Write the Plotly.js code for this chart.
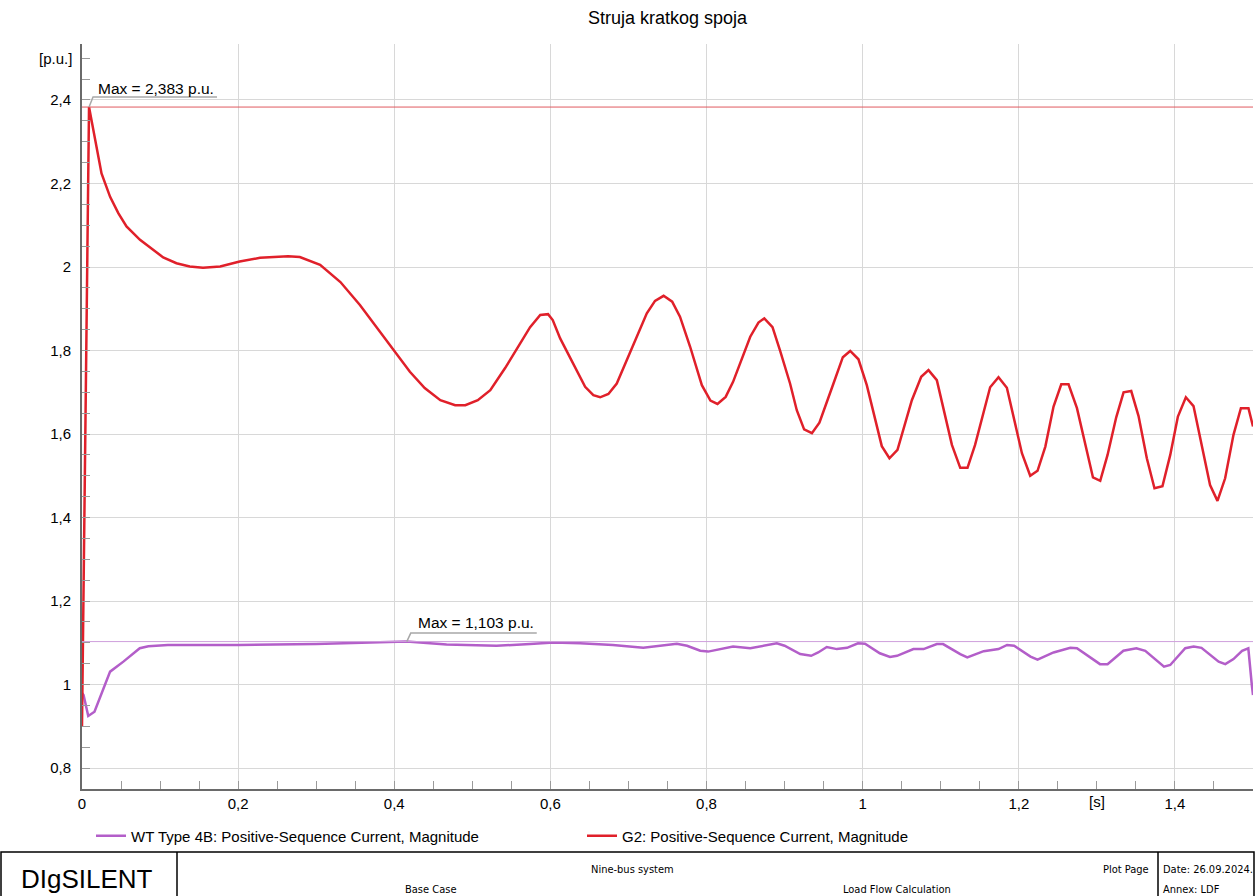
<!DOCTYPE html>
<html>
<head>
<meta charset="utf-8">
<script src="https://cdn.plot.ly/plotly-3.0.1.min.js"></script>
<style>html,body{margin:0;padding:0;background:#fff;}#chart{width:1255px;height:896px;}</style>
</head>
<body>
<div id="chart"></div>
<script>
// ---- data ----
const G2_T = [0, 0.009, 0.025, 0.036, 0.0465, 0.057, 0.0743, 0.091, 0.104, 0.121, 0.138, 0.155, 0.177, 0.202, 0.228, 0.264, 0.279, 0.305, 0.331, 0.356, 0.382, 0.401, 0.420, 0.439, 0.459, 0.478, 0.491, 0.507, 0.523, 0.542, 0.561, 0.574, 0.587, 0.597, 0.603, 0.6125, 0.6445, 0.655, 0.6637, 0.6743, 0.685, 0.702, 0.7235, 0.734, 0.745, 0.756, 0.766, 0.779, 0.794, 0.805, 0.814, 0.8245, 0.834, 0.856, 0.8665, 0.874, 0.8845, 0.894, 0.907, 0.9156, 0.925, 0.935, 0.9446, 0.9626, 0.9746, 0.984, 0.9946, 1.0053, 1.0245, 1.0343, 1.0446, 1.063, 1.075, 1.0843, 1.095, 1.1143, 1.125, 1.1343, 1.144, 1.1633, 1.174, 1.1847, 1.204, 1.2146, 1.224, 1.234, 1.2445, 1.2544, 1.2637, 1.2745, 1.295, 1.3043, 1.3137, 1.3248, 1.3342, 1.344, 1.3534, 1.364, 1.3738, 1.384, 1.394, 1.4038, 1.414, 1.4238, 1.445, 1.4545, 1.4643, 1.475, 1.4845, 1.4942, 1.5];
const G2_V = [0.9, 2.383, 2.224, 2.168, 2.129, 2.097, 2.065, 2.041, 2.023, 2.009, 2.001, 1.998, 2.001, 2.013, 2.022, 2.026, 2.024, 2.005, 1.964, 1.909, 1.844, 1.796, 1.749, 1.710, 1.681, 1.669, 1.669, 1.681, 1.705, 1.758, 1.818, 1.856, 1.885, 1.887, 1.873, 1.829, 1.713, 1.693, 1.688, 1.696, 1.721, 1.797, 1.889, 1.919, 1.931, 1.917, 1.881, 1.809, 1.717, 1.680, 1.672, 1.689, 1.725, 1.833, 1.867, 1.877, 1.856, 1.801, 1.721, 1.657, 1.611, 1.602, 1.627, 1.721, 1.784, 1.799, 1.779, 1.717, 1.571, 1.542, 1.562, 1.681, 1.737, 1.753, 1.729, 1.574, 1.519, 1.519, 1.574, 1.712, 1.736, 1.711, 1.554, 1.500, 1.512, 1.570, 1.666, 1.719, 1.719, 1.662, 1.496, 1.488, 1.550, 1.640, 1.700, 1.703, 1.643, 1.542, 1.470, 1.475, 1.550, 1.642, 1.688, 1.667, 1.478, 1.440, 1.494, 1.598, 1.662, 1.662, 1.618];

const WT_T = [0, 0.002, 0.008, 0.016, 0.036, 0.053, 0.074, 0.085, 0.11, 0.2, 0.3, 0.35, 0.39, 0.416, 0.467, 0.531, 0.574, 0.604, 0.638, 0.68, 0.719, 0.74, 0.762, 0.775, 0.792, 0.802, 0.817, 0.834, 0.856, 0.873, 0.89, 0.9, 0.92, 0.934, 0.943, 0.954, 0.967, 0.98, 0.994, 1.003, 1.022, 1.035, 1.044, 1.065, 1.078, 1.095, 1.103, 1.125, 1.134, 1.155, 1.174, 1.185, 1.194, 1.215, 1.224, 1.2445, 1.266, 1.2745, 1.304, 1.3137, 1.334, 1.3506, 1.362, 1.386, 1.394, 1.4132, 1.424, 1.434, 1.456, 1.4645, 1.475, 1.486, 1.494, 1.4985, 1.5];
const WT_V = [0.98, 0.975, 0.925, 0.935, 1.031, 1.055, 1.087, 1.092, 1.095, 1.095, 1.097, 1.099, 1.101, 1.103, 1.096, 1.093, 1.097, 1.101, 1.099, 1.095, 1.088, 1.093, 1.098, 1.093, 1.081, 1.079, 1.085, 1.091, 1.087, 1.093, 1.099, 1.093, 1.073, 1.069, 1.077, 1.090, 1.085, 1.088, 1.099, 1.098, 1.075, 1.066, 1.069, 1.085, 1.085, 1.097, 1.097, 1.073, 1.065, 1.080, 1.085, 1.095, 1.093, 1.067, 1.060, 1.077, 1.088, 1.087, 1.049, 1.049, 1.081, 1.087, 1.081, 1.043, 1.047, 1.087, 1.091, 1.088, 1.055, 1.049, 1.061, 1.081, 1.087, 0.999, 0.975];

const G2_MAX = 2.383, G2_MAX_T = 0.009;
const WT_MAX = 1.103, WT_MAX_T = 0.416;

const X_TICKS = [0, 0.2, 0.4, 0.6, 0.8, 1, 1.2, 1.4];
const X_TICK_LABELS = ['0', '0,2', '0,4', '0,6', '0,8', '1', '1,2', '1,4'];
const Y_TICKS = [0.8, 1, 1.2, 1.4, 1.6, 1.8, 2, 2.2, 2.4];
const Y_TICK_LABELS = ['0,8', '1', '1,2', '1,4', '1,6', '1,8', '2', '2,2', '2,4'];
const X_UNIT = '[s]', X_UNIT_POS = 1.3;
const Y_UNIT = '[p.u.]', Y_UNIT_POS = 2.5;

const TITLE = 'Struja kratkog spoja';
const WT_NAME = 'WT Type 4B: Positive-Sequence Current, Magnitude';
const G2_NAME = 'G2: Positive-Sequence Current, Magnitude';
const G2_LABEL = 'Max = 2,383 p.u.';
const WT_LABEL = 'Max = 1,103 p.u.';

// ---- layout helpers (pixel -> paper) ----
const W = 1255, H = 896, ML = 82, MR = 2, MT = 44, MB = 107;
const PW = W - ML - MR, PH = H - MT - MB;
const px = p => (p - ML) / PW;
const py = p => (H - MB - p) / PH;

const FONT = 'Liberation Sans, Arial, sans-serif';
const NARROW = 'Liberation Sans Narrow, DejaVu Sans Condensed, Liberation Sans, Arial, sans-serif';
const RED = '#e0202a', PURPLE = '#b35ec9';

const traces = [
  {x: WT_T, y: WT_V, name: WT_NAME, type: 'scatter', mode: 'lines',
   line: {color: PURPLE, width: 2.5}},
  {x: G2_T, y: G2_V, name: G2_NAME, type: 'scatter', mode: 'lines',
   line: {color: RED, width: 2.5}}
];

const footText = (text, x, y, anchor, size, family) => ({
  text, xref: 'paper', yref: 'paper', x: px(x), y: py(y), xanchor: anchor, yanchor: 'middle',
  showarrow: false, font: {family: family || NARROW, size: size || 11, color: '#000'}
});

const layout = {
  width: W, height: H,
  margin: {l: ML, r: MR, t: MT, b: MB},
  paper_bgcolor: '#fff', plot_bgcolor: '#fff',
  font: {family: FONT, color: '#000'},
  title: {text: TITLE, x: 0.5, xref: 'paper', xanchor: 'center', y: 1 - 18 / H, yref: 'container', yanchor: 'middle',
          font: {family: FONT, size: 18, color: '#000'}},
  showlegend: true,
  legend: {orientation: 'h', x: px(91), y: py(836), xanchor: 'left', yanchor: 'middle',
           font: {family: FONT, size: 15, color: '#000'}, entrywidth: 446, entrywidthmode: 'pixels',
           bgcolor: 'rgba(0,0,0,0)'},
  xaxis: {range: [0, 1.5], tickvals: X_TICKS, ticktext: X_TICK_LABELS, showgrid: true,
          gridcolor: '#d8d8d8', gridwidth: 1, zeroline: false, showline: true, linecolor: '#6a6a6a', linewidth: 2,
          ticks: 'inside', ticklen: 8, tickcolor: '#9a9a9a', tickfont: {family: FONT, size: 15, color: '#000'},
          minor: {dtick: 0.05, tick0: 0, ticks: 'inside', ticklen: 8, tickcolor: '#9a9a9a', showgrid: false},
          fixedrange: true},
  yaxis: {range: [0.75, 2.534], tickvals: Y_TICKS, ticktext: Y_TICK_LABELS, showgrid: true,
          gridcolor: '#d8d8d8', gridwidth: 1, zeroline: false, showline: true, linecolor: '#6a6a6a', linewidth: 2,
          ticks: 'inside', ticklen: 8, tickcolor: '#9a9a9a', tickfont: {family: FONT, size: 15, color: '#000'},
          minor: {dtick: 0.05, tick0: 0, ticks: 'inside', ticklen: 8, tickcolor: '#9a9a9a', showgrid: false},
          ticklabelstandoff: 6, fixedrange: true},
  shapes: [
    {type: 'line', xref: 'paper', yref: 'y', x0: 0, x1: 1, y0: G2_MAX, y1: G2_MAX, line: {color: '#e05a5f', width: 1}},
    {type: 'line', xref: 'paper', yref: 'y', x0: 0, x1: 1, y0: WT_MAX, y1: WT_MAX, line: {color: '#cf9fdc', width: 1}},
    {type: 'path', xref: 'x', yref: 'y', xsizemode: 'pixel', ysizemode: 'pixel', xanchor: G2_MAX_T, yanchor: G2_MAX,
     path: 'M0,0 L4,10 L128,10', line: {color: '#a8a8a8', width: 1.5}},
    {type: 'path', xref: 'x', yref: 'y', xsizemode: 'pixel', ysizemode: 'pixel', xanchor: WT_MAX_T, yanchor: WT_MAX,
     path: 'M0,0 L4,8.5 L130,8.5', line: {color: '#a8a8a8', width: 1.5}},
    // footer box
    {type: 'rect', xref: 'paper', yref: 'paper', x0: px(1), x1: px(1254), y0: py(852), y1: py(897),
     line: {color: '#000', width: 1.5}, fillcolor: 'rgba(0,0,0,0)', layer: 'above'},
    {type: 'line', xref: 'paper', yref: 'paper', x0: px(177), x1: px(177), y0: py(852), y1: py(897), line: {color: '#000', width: 1.5}},
    {type: 'line', xref: 'paper', yref: 'paper', x0: px(1158), x1: px(1158), y0: py(852), y1: py(897), line: {color: '#000', width: 1.5}}
  ],
  annotations: [
    {text: G2_LABEL, xref: 'x', yref: 'y', x: G2_MAX_T, y: G2_MAX, xanchor: 'left', yanchor: 'middle',
     xshift: 7, yshift: 19, showarrow: false, font: {family: FONT, size: 15.5, color: '#000'}},
    {text: WT_LABEL, xref: 'x', yref: 'y', x: WT_MAX_T, y: WT_MAX, xanchor: 'left', yanchor: 'middle',
     xshift: 9, yshift: 19.5, showarrow: false, font: {family: FONT, size: 15.5, color: '#000'}},
    {text: X_UNIT, xref: 'x', yref: 'paper', x: X_UNIT_POS, y: py(802), xanchor: 'center', yanchor: 'middle',
     showarrow: false, font: {family: FONT, size: 15, color: '#000'}},
    {text: Y_UNIT, xref: 'paper', yref: 'y', x: px(74), y: Y_UNIT_POS, xanchor: 'right', yanchor: 'middle',
     showarrow: false, font: {family: FONT, size: 15, color: '#000'}},
    footText('DIgSILENT', 87, 879, 'center', 26, FONT),
    footText('Nine-bus system', 632, 869, 'center'),
    footText('Base Case', 430, 889, 'center'),
    footText('Plot Page', 1151, 869, 'right'),
    footText('Load Flow Calculation', 897, 889, 'center'),
    footText('Date: 26.09.2024.', 1161, 869, 'left'),
    footText('Annex: LDF', 1161, 889, 'left')
  ]
};

Plotly.newPlot('chart', traces, layout, {displayModeBar: false, staticPlot: true});
</script>
</body>
</html>
